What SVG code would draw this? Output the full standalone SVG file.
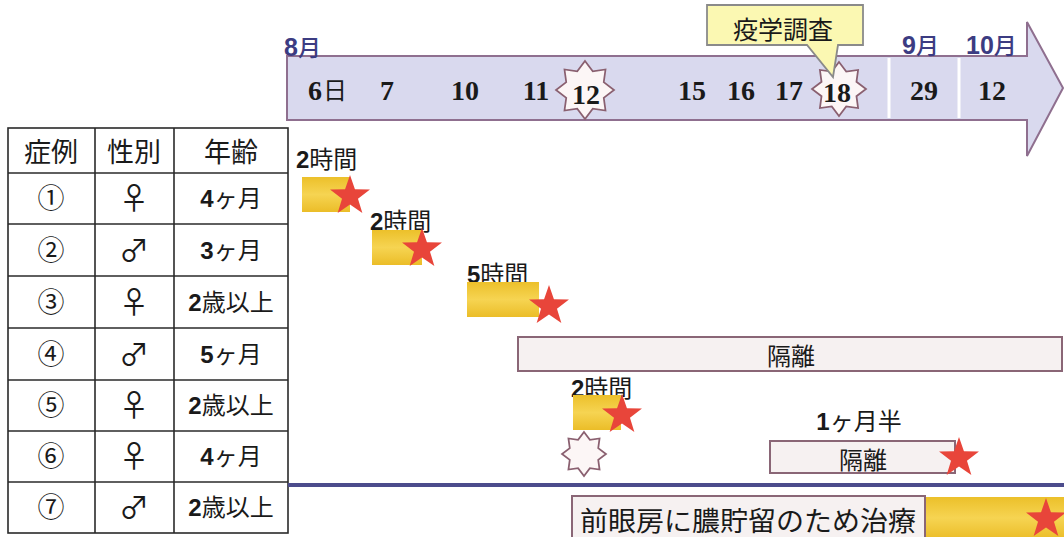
<svg xmlns="http://www.w3.org/2000/svg" xmlns:xlink="http://www.w3.org/1999/xlink" width="1064" height="537" viewBox="0 0 1064 537">
<defs>
<style>
.cjk{font-family:"Noto Sans CJK JP","Noto Sans",sans-serif;fill:#1a1a1a}
.day{font-family:"Liberation Serif",serif;font-weight:bold;font-size:28px;fill:#1a1a1a;text-anchor:middle}
.mon{font-family:"Liberation Sans","Noto Sans CJK JP",sans-serif;font-weight:bold;font-size:25px;fill:#3c3c82}
.mj{font-family:"Noto Sans CJK JP",sans-serif;font-weight:500;fill:#3c3c82;font-size:23px}
.b{font-family:"Liberation Sans",sans-serif;font-weight:bold}
.cell{fill:none;stroke:#2a2a2a;stroke-width:1.6}
.tc{font-size:24px;text-anchor:middle}
.cn{font-size:27px}
.sx{font-size:30px}
.yel{fill:url(#yg)}
.red{fill:#e8453a}
.iso{fill:#f6f1f1;stroke:#8a6676;stroke-width:2}
.burst{fill:#fcf6f6;stroke:#8a6070}
</style>
<linearGradient id="yg" x1="0" y1="0" x2="0" y2="1">
<stop offset="0" stop-color="#ecc02a"/>
<stop offset="0.5" stop-color="#f6d452"/>
<stop offset="1" stop-color="#ebbd28"/>
</linearGradient>
<polygon id="burst" points="0,-10 2.679,-6.467 7.071,-7.071 6.467,-2.679 10,0 6.467,2.679 7.071,7.071 2.679,6.467 0,10 -2.679,6.467 -7.071,7.071 -6.467,2.679 -10,0 -6.467,-2.679 -7.071,-7.071 -2.679,-6.467"/>
<polygon id="star" points="0,-10 2.35,-3.2 9.511,-3.09 3.8,1.25 5.878,8.09 0,4 -5.878,8.09 -3.8,1.25 -9.511,-3.09 -2.35,-3.2"/>
</defs>
<rect width="1064" height="537" fill="#ffffff"/>

<g id="timeline">
<path d="M287,56 L1027,56 L1027,22 L1063,88 L1027,156 L1027,120 L287,120 Z" fill="#d9d9ee" stroke="#8f6f8f" stroke-width="2"/>
<line x1="889" y1="58" x2="889" y2="118" stroke="#ffffff" stroke-width="3"/>
<line x1="959" y1="58" x2="959" y2="118" stroke="#ffffff" stroke-width="3"/>
<text class="mon" x="284" y="56">8<tspan class="mj">月</tspan></text>
<text class="mon" x="902" y="54">9<tspan class="mj">月</tspan></text>
<text class="mon" x="966" y="54">10<tspan class="mj">月</tspan></text>
<use xlink:href="#burst" class="burst" style="stroke-width:0.6" transform="translate(585,90) scale(2.9)"/>
<use xlink:href="#burst" class="burst" style="stroke-width:0.65" transform="translate(839,89) scale(2.7)"/>
<text class="day" x="315" y="100">6</text>
<text class="cjk" x="335" y="99" font-size="24" text-anchor="middle">日</text>
<text class="day" x="387" y="100">7</text>
<text class="day" x="465" y="100">10</text>
<text class="day" x="536" y="100">11</text>
<text class="day" x="586" y="104">12</text>
<text class="day" x="692" y="100">15</text>
<text class="day" x="741" y="100">16</text>
<text class="day" x="789" y="100">17</text>
<text class="day" x="837" y="102">18</text>
<text class="day" x="924" y="100">29</text>
<text class="day" x="992" y="100">12</text>
</g>

<g id="callout">
<path d="M707,5 L863,5 L863,45 L838,45 L833,77 L807,45 L707,45 Z" fill="#fbf8b2" stroke="#8a8a8a" stroke-width="1.8"/>
<text class="cjk" x="783" y="39" font-size="25" text-anchor="middle">疫学調査</text>
</g>

<g id="table">
<rect class="cell" x="8" y="128" width="280" height="405"/>
<line class="cell" x1="95" y1="128" x2="95" y2="533"/>
<line class="cell" x1="174" y1="128" x2="174" y2="533"/>
<line class="cell" x1="8" y1="173" x2="288" y2="173"/>
<line class="cell" x1="8" y1="224" x2="288" y2="224"/>
<line class="cell" x1="8" y1="276" x2="288" y2="276"/>
<line class="cell" x1="8" y1="328" x2="288" y2="328"/>
<line class="cell" x1="8" y1="380" x2="288" y2="380"/>
<line class="cell" x1="8" y1="431" x2="288" y2="431"/>
<line class="cell" x1="8" y1="482" x2="288" y2="482"/>
<text class="cjk" x="51" y="162" font-size="27" text-anchor="middle">症例</text>
<text class="cjk" x="134" y="162" font-size="27" text-anchor="middle">性別</text>
<text class="cjk" x="231" y="162" font-size="27" text-anchor="middle">年齢</text>
<g class="cjk tc">
<text class="cn" x="51" y="208">①</text><text class="sx" x="134" y="209">♀</text><text x="231" y="207"><tspan class="b">4</tspan>ヶ月</text>
<text class="cn" x="51" y="260">②</text><text class="sx" x="134" y="261">♂</text><text x="231" y="259"><tspan class="b">3</tspan>ヶ月</text>
<text class="cn" x="51" y="312">③</text><text class="sx" x="134" y="313">♀</text><text x="231" y="311"><tspan class="b">2</tspan>歳以上</text>
<text class="cn" x="51" y="364">④</text><text class="sx" x="134" y="365">♂</text><text x="231" y="363"><tspan class="b">5</tspan>ヶ月</text>
<text class="cn" x="51" y="415">⑤</text><text class="sx" x="134" y="416">♀</text><text x="231" y="414"><tspan class="b">2</tspan>歳以上</text>
<text class="cn" x="51" y="466">⑥</text><text class="sx" x="134" y="467">♀</text><text x="231" y="465"><tspan class="b">4</tspan>ヶ月</text>
<text class="cn" x="51" y="517">⑦</text><text class="sx" x="134" y="518">♂</text><text x="231" y="516"><tspan class="b">2</tspan>歳以上</text>
</g>
</g>

<g id="connectors">
<line x1="288" y1="485" x2="1064" y2="485" stroke="#4c4c8c" stroke-width="4"/>
</g>

<g id="case1">
<text class="cjk" x="296" y="168" font-size="24"><tspan class="b">2</tspan>時間</text>
<rect class="yel" x="302" y="177" width="48" height="35"/>
<use xlink:href="#star" class="red" transform="translate(350,196) scale(2.1)"/>
</g>
<g id="case2">
<text class="cjk" x="370" y="230" font-size="24"><tspan class="b">2</tspan>時間</text>
<rect class="yel" x="372" y="230" width="50" height="35"/>
<use xlink:href="#star" class="red" transform="translate(422,249) scale(2.1)"/>
</g>
<g id="case3">
<text class="cjk" x="467" y="283" font-size="24"><tspan class="b">5</tspan>時間</text>
<rect class="yel" x="467" y="282" width="72" height="35"/>
<use xlink:href="#star" class="red" transform="translate(549,306) scale(2.1)"/>
</g>
<g id="case4">
<rect class="iso" x="518" y="337" width="544" height="34"/>
<text class="cjk" x="791" y="365" font-size="24" text-anchor="middle">隔離</text>
</g>
<g id="case5">
<text class="cjk" x="571" y="397" font-size="24"><tspan class="b">2</tspan>時間</text>
<rect class="yel" x="573" y="395" width="48" height="35"/>
<use xlink:href="#star" class="red" transform="translate(622,415) scale(2.1)"/>
</g>
<g id="case6">
<use xlink:href="#burst" class="burst" style="stroke-width:0.8" transform="translate(584,454) scale(2.2)"/>
<text class="cjk" x="859" y="430" font-size="24" text-anchor="middle"><tspan class="b">1</tspan>ヶ月半</text>
<rect class="iso" x="770" y="441" width="185" height="32"/>
<text class="cjk" x="863" y="469" font-size="24" text-anchor="middle">隔離</text>
<use xlink:href="#star" class="red" transform="translate(959,458) scale(2.1)"/>
</g>
<g id="case7">
<rect class="yel" x="925" y="497" width="139" height="42"/>
<rect class="iso" x="572" y="496" width="353" height="45"/>
<text class="cjk" x="580" y="531" font-size="27" textLength="336" lengthAdjust="spacingAndGlyphs">前眼房に膿貯留のため治療</text>
<use xlink:href="#star" class="red" transform="translate(1046,519) scale(2.1)"/>
</g>
</svg>
